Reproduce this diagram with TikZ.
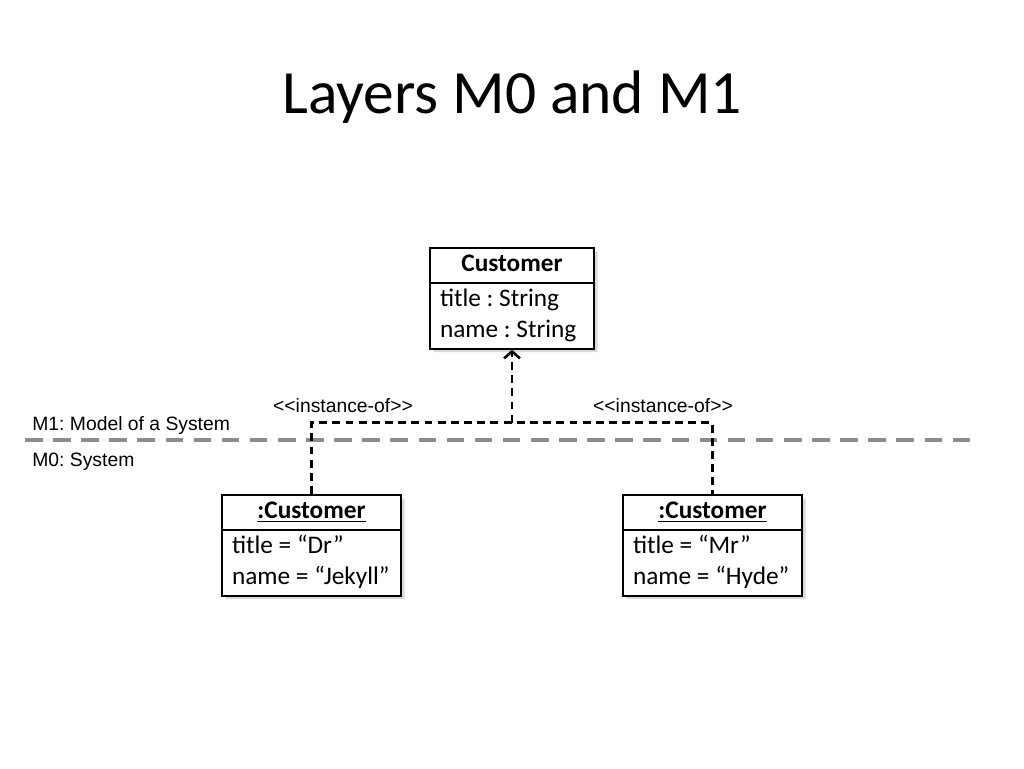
\documentclass[tikz,border=0pt]{standalone}
\usepackage{fontspec}
\setmainfont{Carlito}
\newfontfamily\labelfont{Liberation Sans}
\usepackage{tikz}
\usetikzlibrary{shapes,arrows.meta,positioning,shadows,calc}
\definecolor{layergray}{RGB}{140,140,140}
\frenchspacing
\newcommand{\headpart}[2]{\makebox[#1][c]{\textbf{#2}}\strut}
\newcommand{\bodypart}[3]{\parbox[t]{#1}{\raggedright #2\strut\\ #3\strut}}

\begin{document}
\begin{tikzpicture}[
    x=0.02cm, y=-0.02cm,
    umlbox/.style={rectangle split, rectangle split parts=2, draw, line width=1.2pt, fill=white, inner xsep=0.2cm, inner ysep=0.5pt, font=\fontsize{14.4}{17.6}\selectfont, drop shadow={opacity=0.3, shadow xshift=2pt, shadow yshift=-2pt}},
    link/.style={line width=1.5pt, dash pattern=on 4.5pt off 3pt},
    layerline/.style={layergray, line width=1.8pt, dash pattern=on 10pt off 6pt},
    tag/.style={font=\labelfont\fontsize{11}{13}\selectfont, inner sep=0pt}
]
\useasboundingbox (0,0) rectangle (1024,768);

% title
\node[font=\fontsize{35}{42}\selectfont] (title) at (512,97) {Layers M0 and M1};

% layer boundary
\draw[layerline] (25,440) -- (975,440);
\node[tag, anchor=west] (m1) at (32,425) {M1: Model of a System};
\node[tag, anchor=west] (m0) at (32,462) {M0: System};

% class and its instances
\node[umlbox, anchor=north] (cls) at (512,247)
    {\headpart{2.88cm}{Customer}
     \nodepart{second}\bodypart{2.88cm}{title : String}{name : String}};
\node[umlbox, anchor=north] (jekyll) at (311.5,494)
    {\headpart{3.18cm}{\underline{:Customer}}
     \nodepart{second}\bodypart{3.18cm}{title = “Dr”}{name = “Jekyll”}};
\node[umlbox, anchor=north] (hyde) at (712.5,494)
    {\headpart{3.18cm}{\underline{:Customer}}
     \nodepart{second}\bodypart{3.18cm}{title = “Mr”}{name = “Hyde”}};

% instance-of links
\coordinate (join) at ($(cls.south)+(0,73)$);
\draw[link] (jekyll.north) |- (join) -| (hyde.north);
\draw[link, -{Straight Barb[length=4pt,width=9pt,line width=1.5pt]}] (join) -- (cls.south);
\node[tag] (inst1) at (343,406) {\textless\textless instance-of\textgreater\textgreater};
\node[tag] (inst2) at (663,406) {\textless\textless instance-of\textgreater\textgreater};

\end{tikzpicture}
\end{document}
